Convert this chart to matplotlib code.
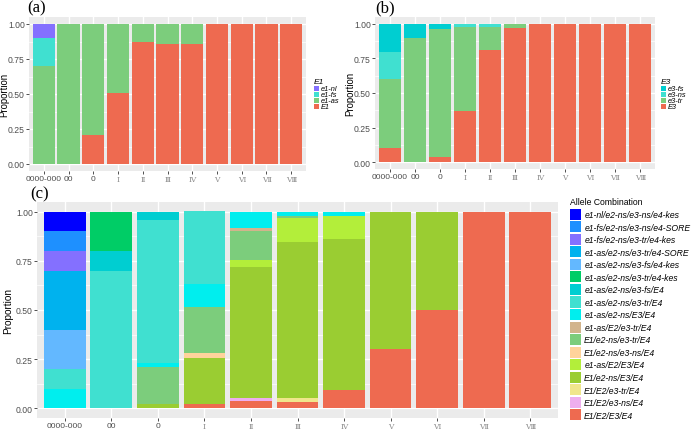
import matplotlib
matplotlib.use('Agg')
import matplotlib.pyplot as plt
from matplotlib.patches import Patch, Rectangle
import numpy as np

groups = ["0000-000", "00", "0", "Ⅰ", "Ⅱ", "Ⅲ", "Ⅳ", "Ⅴ", "Ⅵ", "Ⅶ", "Ⅷ"]

# ---- panel (a): E1 ----
e1_levels = ["e1-nl", "e1-fs", "e1-as", "E1"]          # legend order (top of stack first)
e1_colors = ["#8470FF", "#40E0D0", "#7CCD7C", "#EE6A50"]
e1_nl = [0.10, 0, 0, 0, 0, 0, 0, 0, 0, 0, 0]
e1_fs = [0.20, 0, 0, 0, 0, 0, 0, 0, 0, 0, 0]
e1_as = [0.70, 1.00, 0.79, 0.49, 0.13, 0.14, 0.14, 0, 0, 0, 0]
E1 = [0, 0, 0.21, 0.51, 0.87, 0.86, 0.86, 1.00, 1.00, 1.00, 1.00]
e1_values = [e1_nl, e1_fs, e1_as, E1]

# ---- panel (b): E3 ----
e3_levels = ["e3-fs", "e3-ns", "e3-tr", "E3"]
e3_colors = ["#00CED1", "#40E0D0", "#7CCD7C", "#EE6A50"]
e3_fs = [0.20, 0.10, 0.04, 0, 0, 0, 0, 0, 0, 0, 0]
e3_ns = [0.20, 0, 0, 0.02, 0.02, 0, 0, 0, 0, 0, 0]
e3_tr = [0.50, 0.90, 0.92, 0.61, 0.17, 0.03, 0, 0, 0, 0, 0]
E3 = [0.10, 0, 0.04, 0.37, 0.81, 0.97, 1.00, 1.00, 1.00, 1.00, 1.00]
e3_values = [e3_fs, e3_ns, e3_tr, E3]

# ---- panel (c): allele combinations ----
combo_levels = [
    "e1-nl/e2-ns/e3-ns/e4-kes",
    "e1-fs/e2-ns/e3-ns/e4-SORE",
    "e1-fs/e2-ns/e3-tr/e4-kes",
    "e1-as/e2-ns/e3-tr/e4-SORE",
    "e1-as/e2-ns/e3-fs/e4-kes",
    "e1-as/e2-ns/e3-tr/e4-kes",
    "e1-as/e2-ns/e3-fs/E4",
    "e1-as/e2-ns/e3-tr/E4",
    "e1-as/e2-ns/E3/E4",
    "e1-as/E2/e3-tr/E4",
    "E1/e2-ns/e3-tr/E4",
    "E1/e2-ns/e3-ns/E4",
    "e1-as/E2/E3/E4",
    "E1/e2-ns/E3/E4",
    "E1/E2/e3-tr/E4",
    "E1/E2/e3-ns/E4",
    "E1/E2/E3/E4",
]
combo_colors = [
    "#0000FF", "#1E90FF", "#8470FF", "#00B2EE", "#63B8FF", "#00CD66",
    "#00CED1", "#40E0D0", "#00EEEE", "#D2B48C", "#7CCD7C", "#FFD39B",
    "#B3EE3A", "#9ACD32", "#F0E68C", "#EEAEEE", "#EE6A50",
]
#                 0000-000  00    0     I      II     III    IV     V     VI    VII   VIII
c_nl_ns_ns_kes   = [0.10, 0,    0,    0,     0,     0,     0,     0,    0,    0,    0]
c_fs_ns_ns_sore  = [0.10, 0,    0,    0,     0,     0,     0,     0,    0,    0,    0]
c_fs_ns_tr_kes   = [0.10, 0,    0,    0,     0,     0,     0,     0,    0,    0,    0]
c_as_ns_tr_sore  = [0.30, 0,    0,    0,     0,     0,     0,     0,    0,    0,    0]
c_as_ns_fs_kes   = [0.20, 0,    0,    0,     0,     0,     0,     0,    0,    0,    0]
c_as_ns_tr_kes   = [0,    0.20, 0,    0,     0,     0,     0,     0,    0,    0,    0]
c_as_ns_fs_E4    = [0,    0.10, 0.04, 0,     0,     0,     0,     0,    0,    0,    0]
c_as_ns_tr_E4    = [0.10, 0.70, 0.73, 0.37,  0,     0,     0,     0,    0,    0,    0]
c_as_ns_E3_E4    = [0.10, 0,    0.02, 0.12,  0.08,  0.02,  0.022, 0,    0,    0,    0]
c_as_E2_tr_E4    = [0,    0,    0,    0,     0.017, 0,     0,     0,    0,    0,    0]
c_E1_ns_tr_E4    = [0,    0,    0.19, 0.235, 0.15,  0.014, 0,     0,    0,    0,    0]
c_E1_ns_ns_E4    = [0,    0,    0,    0.024, 0,     0,     0,     0,    0,    0,    0]
c_as_E2_E3_E4    = [0,    0,    0,    0,     0.036, 0.119, 0.118, 0,    0,    0,    0]
c_E1_ns_E3_E4    = [0,    0,    0.02, 0.233, 0.665, 0.796, 0.765, 0.70, 0.50, 0,    0]
c_E1_E2_tr_E4    = [0,    0,    0,    0,     0,     0.017, 0,     0,    0,    0,    0]
c_E1_E2_ns_E4    = [0,    0,    0,    0,     0.017, 0,     0,     0,    0,    0,    0]
c_E1_E2_E3_E4    = [0,    0,    0,    0.022, 0.035, 0.034, 0.095, 0.30, 0.50, 1.00, 1.00]
combo_values = [
    c_nl_ns_ns_kes, c_fs_ns_ns_sore, c_fs_ns_tr_kes, c_as_ns_tr_sore,
    c_as_ns_fs_kes, c_as_ns_tr_kes, c_as_ns_fs_E4, c_as_ns_tr_E4,
    c_as_ns_E3_E4, c_as_E2_tr_E4, c_E1_ns_tr_E4, c_E1_ns_ns_E4,
    c_as_E2_E3_E4, c_E1_ns_E3_E4, c_E1_E2_tr_E4, c_E1_E2_ns_E4, c_E1_E2_E3_E4,
]

SANS = "Liberation Sans"
SERIF = "Liberation Serif"
W, H = 693, 431
fig = plt.figure(figsize=(W / 100, H / 100), dpi=100)


def px_axes(x0, y0, x1, y1):
    return fig.add_axes([x0 / W, 1 - y1 / H, (x1 - x0) / W, (y1 - y0) / H])


def gg_style(ax, label_x_px, tick_fs=6.0, ylab_fs=7.2):
    ax.set_facecolor("#EBEBEB")
    for s in ax.spines.values():
        s.set_visible(False)
    ax.set_axisbelow(True)
    ax.set_ylim(-0.05, 1.05)
    ax.set_xlim(-0.6, len(groups) - 0.4)
    ax.set_yticks([0, 0.25, 0.5, 0.75, 1.0])
    ax.set_yticklabels(["0.00", "0.25", "0.50", "0.75", "1.00"], family=SANS)
    ax.set_yticks([0.125, 0.375, 0.625, 0.875], minor=True)
    ax.set_xticks(range(len(groups)))
    ax.set_xticklabels(groups, family=SANS)
    ax.grid(True, which="major", color="white", linewidth=1.0)
    ax.grid(True, which="minor", axis="y", color="white", linewidth=0.5)
    ax.tick_params(axis="both", which="major", length=2, width=0.6, color="#333333",
                   labelsize=tick_fs, labelcolor="#4D4D4D", pad=1)
    ax.tick_params(axis="y", which="major", labelsize=tick_fs + 0.2)
    ax.tick_params(axis="both", which="minor", length=0)
    for lab in ax.get_xticklabels()[3:]:
        lab.set_fontfamily(["DejaVu Serif", "Noto Sans CJK JP"])
        lab.set_fontsize(tick_fs - 0.6)
        lab.set_color("#8C8C8C")
    ax.set_ylabel("Proportion", fontsize=ylab_fs, family=SANS, color="black",
                  ha="center", va="center")
    pos = ax.get_position()
    ax.yaxis.set_label_coords((label_x_px / W - pos.x0) / pos.width, 0.5)


def stacked(ax, values, colors):
    x = np.arange(len(groups))
    bottom = np.zeros(len(groups))
    for vals, col in zip(values[::-1], colors[::-1]):
        v = np.array(vals, dtype=float)
        ax.bar(x, v, bottom=bottom, width=0.9, color=col, linewidth=0)
        bottom += v


def small_legend(levels, colors, title, x, y_title, y0, step=5.9, key=4.6):
    fig.text(x / W, 1 - y_title / H, title, fontsize=6, style="italic", family=SANS,
             ha="left", va="center")
    for i, (lab, col) in enumerate(zip(levels, colors)):
        yc = y0 + i * step
        fig.add_artist(Rectangle((x / W, 1 - (yc + key / 2) / H), key / W, key / H,
                                 transform=fig.transFigure, facecolor=col, edgecolor="none"))
        fig.text((x + key + 2.2) / W, 1 - yc / H, lab, fontsize=5.3, style="italic",
                 family=SANS, ha="left", va="center")


# panel (a)
axa = px_axes(29, 18, 306, 172)
stacked(axa, e1_values, e1_colors)
gg_style(axa, 4, ylab_fs=6.9)
fig.text(37 / W, 1 - 8 / H, "(a)", fontsize=12, family=SERIF, ha="center", va="center")
small_legend(e1_levels, e1_colors, "E1", 314, 83, 89.5)

# panel (b)
axb = px_axes(375, 18, 655, 170)
stacked(axb, e3_values, e3_colors)
gg_style(axb, 350, ylab_fs=6.9)
fig.text(385 / W, 1 - 8 / H, "(b)", fontsize=12, family=SERIF, ha="center", va="center")
small_legend(e3_levels, e3_colors, "E3", 661, 83, 89.5)

# panel (c)
axc = px_axes(37, 203, 558, 419)
stacked(axc, combo_values, combo_colors)
gg_style(axc, 8)
fig.text(40 / W, 1 - 194 / H, "(c)", fontsize=12, family=SERIF, ha="center", va="center")
h = [Patch(facecolor=c, edgecolor="none") for c in combo_colors]
leg = fig.legend(h, combo_levels, loc="upper left", bbox_to_anchor=(570 / W, 1 - 198 / H),
                 frameon=False, prop={"size": 6.2, "style": "italic", "family": SANS},
                 title="Allele Combination", title_fontproperties={"size": 6.2, "family": SANS},
                 handlelength=1.3, handleheight=1.6, labelspacing=0.17,
                 handletextpad=0.35, borderpad=0, borderaxespad=0)
leg._legend_box.align = "left"
leg._legend_box.sep = 2

fig.savefig("out.png", dpi=100)
